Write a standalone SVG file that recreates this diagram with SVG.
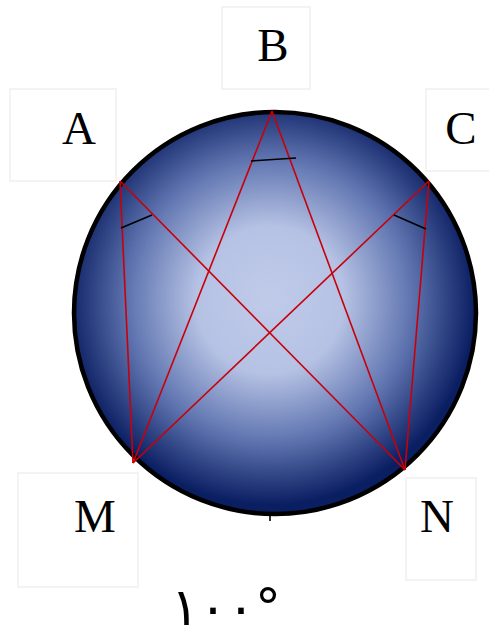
<svg xmlns="http://www.w3.org/2000/svg" width="489" height="637" viewBox="0 0 489 637">
<style>
.box{fill:#fff;stroke:#efefef;stroke-width:1.5}
.lbl{font-family:"Liberation Serif",serif;font-size:47px;fill:#000;text-anchor:middle}
.red{stroke:#c8000a;stroke-width:1.6;fill:none}
.tick{stroke:#000;stroke-width:1.6;fill:none}
</style>
<defs>
<radialGradient id="g" cx="270" cy="300" r="205" gradientUnits="userSpaceOnUse">
<stop offset="0" stop-color="#c0cbea"/>
<stop offset="0.36" stop-color="#b6c2e4"/>
<stop offset="0.68" stop-color="#6277b2"/>
<stop offset="1" stop-color="#0a1e62"/>
</radialGradient>
</defs>
<g id="labelA"><rect class="box" x="10" y="89" width="106" height="92"/><text class="lbl" x="79" y="144">A</text></g>
<g id="labelB"><rect class="box" x="222" y="7" width="88" height="82"/><text class="lbl" x="273" y="61">B</text></g>
<g id="labelC"><rect class="box" x="426" y="89" width="70" height="82"/><text class="lbl" x="461" y="144">C</text></g>
<g id="labelM"><rect class="box" x="18" y="473" width="120" height="114"/><text class="lbl" x="95" y="532">M</text></g>
<g id="labelN"><rect class="box" x="406" y="478" width="70" height="102"/><text class="lbl" x="437" y="532">N</text></g>
<g id="circle"><circle cx="275" cy="313" r="201" fill="url(#g)" stroke="#000" stroke-width="4.5"/></g>
<g id="connectors">
<line class="red" x1="272" y1="111" x2="133" y2="463"/>
<line class="red" x1="272" y1="111" x2="405" y2="470"/>
<line class="red" x1="120" y1="181" x2="405" y2="470"/>
<line class="red" x1="429" y1="181" x2="133" y2="463"/>
<line class="red" x1="120" y1="181" x2="133" y2="463"/>
<line class="red" x1="429" y1="181" x2="405" y2="470"/>
<line class="tick" x1="251" y1="161" x2="296" y2="158"/>
<line class="tick" x1="121" y1="228" x2="152" y2="215"/>
<line class="tick" x1="394" y1="215" x2="426" y2="229"/>
<line class="tick" x1="270" y1="516" x2="270" y2="521" stroke-width="1"/>
</g>
<g id="angle"><text x="226" y="625" font-family="'DejaVu Sans',sans-serif" font-size="52" text-anchor="middle">١٠٠°</text></g>
</svg>
